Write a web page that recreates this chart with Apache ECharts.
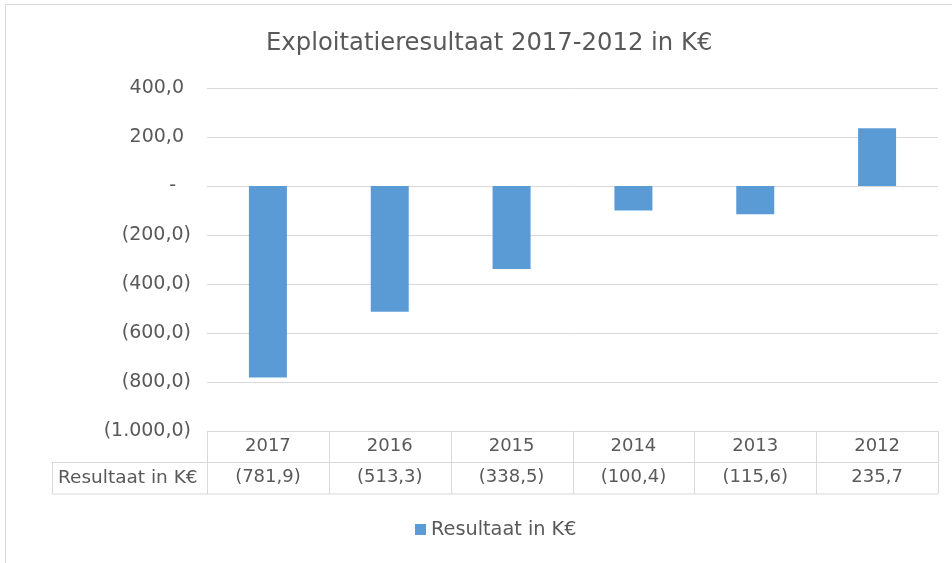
<!DOCTYPE html>
<html>
<head>
<meta charset="utf-8">
<script src="https://cdn.jsdelivr.net/npm/echarts@6/dist/echarts.min.js"></script>
<style>
  html, body { margin: 0; padding: 0; background: #fff; }
  #chart { width: 952px; height: 563px; }
</style>
</head>
<body>
<div id="chart"></div>
<script>
// data
const years = ['2017', '2016', '2015', '2014', '2013', '2012']
const resultaat = [-781.9, -513.3, -338.5, -100.4, -115.6, 235.7]
const seriesName = 'Resultaat in K€'
const titleText = 'Exploitatieresultaat 2017-2012 in K€'

// layout
const gridLeft = 207
const gridRight = 14
const gridTop = 88
const gridBottom = 132
const rowH = 31.5
const tableLeft = 52
const W = 952
const H = 563
const font = '"DejaVu Sans"'

// nl-NL number with parentheses for negatives
function fmt(v, dec) {
  const a = Math.abs(v).toFixed(dec).split('.')
  const int = a[0].replace(/\B(?=(\d{3})+(?!\d))/g, '.')
  const s = int + ',' + a[1]
  return v < 0 ? '(' + s + ')' : s
}

const chart = echarts.init(document.getElementById('chart'))

const lineColor = '#d9d9d9'
const textColor = '#595959'
const tableTop = H - gridBottom
const tableRight = W - gridRight
const colW = (tableRight - gridLeft) / years.length

const graphics = [
  {
    type: 'rect',
    shape: { x: 5.5, y: 4.5, width: 2000, height: 2000 },
    style: { fill: 'none', stroke: lineColor, lineWidth: 1 },
    silent: true,
  },
]
// table lines
const hLine = (x1, x2, y) => ({
  type: 'line',
  shape: { x1: x1, y1: y, x2: x2, y2: y },
  style: { stroke: lineColor, lineWidth: 1 },
  silent: true,
})
const vLine = (x, y1, y2) => ({
  type: 'line',
  shape: { x1: x, y1: y1, x2: x, y2: y2 },
  style: { stroke: lineColor, lineWidth: 1 },
  silent: true,
})
graphics.push(hLine(tableLeft, tableRight, tableTop + rowH))
graphics.push(hLine(tableLeft, tableRight, tableTop + 2 * rowH))
graphics.push(vLine(tableLeft + 0.5, tableTop + rowH, tableTop + 2 * rowH))
for (let i = 0; i <= years.length; i++) {
  graphics.push(vLine(Math.round(gridLeft + i * colW) + 0.5, tableTop, tableTop + 2 * rowH))
}
graphics.push({
  type: 'text',
  left: tableLeft + 6,
  top: tableTop + rowH * 1.5 - 10,
  style: {
    text: seriesName,
    fill: textColor,
    font: '18.5px ' + font,
  },
  silent: true,
})

const option = {
  backgroundColor: '#fff',
  animation: false,
  title: {
    text: titleText,
    left: 261,
    top: 27,
    textStyle: {
      color: textColor,
      fontSize: 24.3,
      fontWeight: 'normal',
      fontFamily: font,
    },
  },
  legend: {
    bottom: 19,
    left: 410,
    itemWidth: 11,
    itemHeight: 11,
    icon: 'rect',
    textStyle: {
      color: textColor,
      fontSize: 19.3,
      fontFamily: font,
    },
    data: [seriesName],
  },
  grid: {
    left: gridLeft,
    right: gridRight,
    top: gridTop,
    bottom: gridBottom,
  },
  xAxis: [
    {
      type: 'category',
      data: years,
      position: 'bottom',
      axisLine: { show: false },
      axisTick: { show: false },
      axisLabel: {
        margin: 6,
        color: textColor,
        fontSize: 18,
        fontFamily: font,
      },
    },
    {
      type: 'category',
      data: resultaat.map((v) => fmt(v, 1)),
      position: 'bottom',
      offset: rowH,
      axisLine: { show: false },
      axisTick: { show: false },
      axisLabel: {
        margin: 6,
        color: textColor,
        fontSize: 18,
        fontFamily: font,
      },
    },
  ],
  yAxis: {
    type: 'value',
    min: -1000,
    max: 400,
    interval: 200,
    axisLine: { show: false },
    axisTick: { show: false },
    splitLine: { lineStyle: { color: lineColor, width: 1 } },
    axisLabel: {
      margin: 16,
      color: textColor,
      fontSize: 19,
      fontFamily: font,
      formatter: (v) => {
        if (v === 0) return '{z|-}'
        if (v > 0) return '{p|' + fmt(v, 1) + '}'
        return '{n|' + fmt(v, 1) + '}'
      },
      rich: {
        p: { fontSize: 19, color: textColor, padding: [0, 7, 0, 0], fontFamily: font },
        n: { fontSize: 19, color: textColor, fontFamily: font },
        z: { fontSize: 19, color: textColor, padding: [0, 15, 0, 0], fontFamily: font },
      },
    },
  },
  series: [
    {
      name: seriesName,
      type: 'bar',
      data: resultaat,
      barWidth: 38,
      itemStyle: { color: '#5b9bd5' },
    },
  ],
  graphic: graphics,
}

chart.setOption(option)
</script>
</body>
</html>
